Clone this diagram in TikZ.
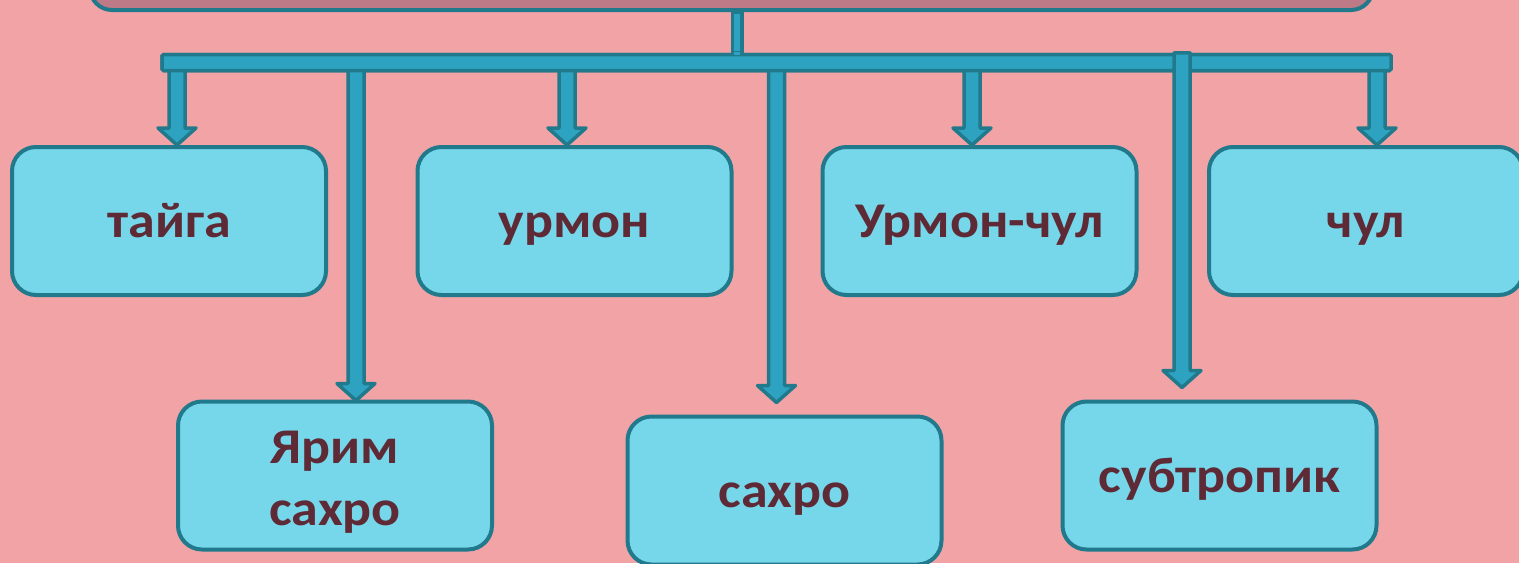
\documentclass[tikz,border=0pt]{standalone}
\usepackage{fontspec}
\setmainfont[FakeStretch=1.08]{Carlito}
\usetikzlibrary{calc}
\definecolor{bgc}{HTML}{F2A3A6}
\definecolor{topc}{HTML}{BF7A87}
\definecolor{edgec}{HTML}{217A8C}
\definecolor{arrc}{HTML}{2EA3C1}
\definecolor{boxc}{HTML}{76D6EA}
\definecolor{txtc}{HTML}{5E2A35}
\tikzset{
  zone/.style={draw=edgec, fill=boxc, line width=4pt, rounded corners=24pt,
    minimum width=314pt, minimum height=148pt, inner sep=0pt, align=center,
    text height=33pt, text depth=0pt,
    text=txtc, font=\bfseries\fontsize{50}{62}\selectfont},
  fatarr/.style={draw=edgec, fill=arrc, line width=3.5pt, line join=round},
  barbox/.style={draw=edgec, fill=arrc, line width=3.5pt, rounded corners=1.5pt,
    minimum width=1229pt, minimum height=16pt, inner sep=0pt},
}
% #1 start coordinate (top), #2 tip coordinate
\newcommand\fatarrow[2]{%
  \draw[fatarr] let \p1=(#1), \p2=(#2) in
    (\x2-8,\y1) -- (\x2-8,\y2+17) -- (\x2-19,\y2+17) -- (\x2,\y2)
    -- (\x2+19,\y2+17) -- (\x2+8,\y2+17) -- (\x2+8,\y1) -- cycle;}
\begin{document}
\begin{tikzpicture}[x=1pt,y=-1pt]
\useasboundingbox (0,0) rectangle (1519,563);
\fill[bgc] (0,0) rectangle (1519,563);
% top box (cut off by the frame)
\node[draw=edgec, fill=topc, line width=4pt, rounded corners=22pt,
  minimum width=1283pt, minimum height=80pt, inner sep=0pt] (top) at (731.5,-30) {};
% boxes
\node[zone] (taiga) at (169,221) {тайга};
\node[zone] (urmon) at (574.5,221) {урмон};
\node[zone] (urmonchul) at (979.5,221) {Урмон-чул};
\node[zone] (chul) at (1366,221) {чул};
\node[zone, text height=99pt] (yarim) at (335,475.5) {Ярим\\сахро};
\node[zone] (sahro) at (784.5,490.5) {сахро};
\node[zone] (subtrop) at (1219.5,475.5) {субтропик};
% bar
\node[barbox] (bar) at (776.5,62.5) {};
% connector from top box to bar
\coordinate (topc) at ($(top.south)+(5.5,0)$);
\draw[edgec, line width=13pt] (topc) -- (topc |- bar.north);
\draw[arrc, line width=6pt] ($(topc)+(0,2)$) -- ($(topc |- bar.north)+(0,-2)$);
% arrows (under the bar)
\coordinate (taigatip) at ($(taiga.north)+(8,0)$);
\fatarrow{taigatip |- bar.center}{taigatip}
\coordinate (urmontip) at ($(urmon.north)+(-7.5,0)$);
\fatarrow{urmontip |- bar.center}{urmontip}
\coordinate (urmonchultip) at ($(urmonchul.north)+(-7.5,0)$);
\fatarrow{urmonchultip |- bar.center}{urmonchultip}
\coordinate (chultip) at ($(chul.north)+(11,0)$);
\fatarrow{chultip |- bar.center}{chultip}
\coordinate (yarimtip) at ($(yarim.north)+(21,1)$);
\fatarrow{yarimtip |- bar.center}{yarimtip}
\coordinate (sahrotip) at ($(sahro.north)+(-8,-12)$);
\fatarrow{sahrotip |- bar.center}{sahrotip}
% redraw bar over arrows
\node[barbox] at (bar) {};
\draw[arrc, line width=6pt] ($(topc |- bar.north)+(0,-1)$) -- ($(topc |- bar.north)+(0,2)$);
% subtropic arrow over the bar
\coordinate (subtip) at ($(subtrop.north)+(-37.5,-12)$);
\fatarrow{subtip |- bar.north}{subtip}
\end{tikzpicture}
\end{document}
